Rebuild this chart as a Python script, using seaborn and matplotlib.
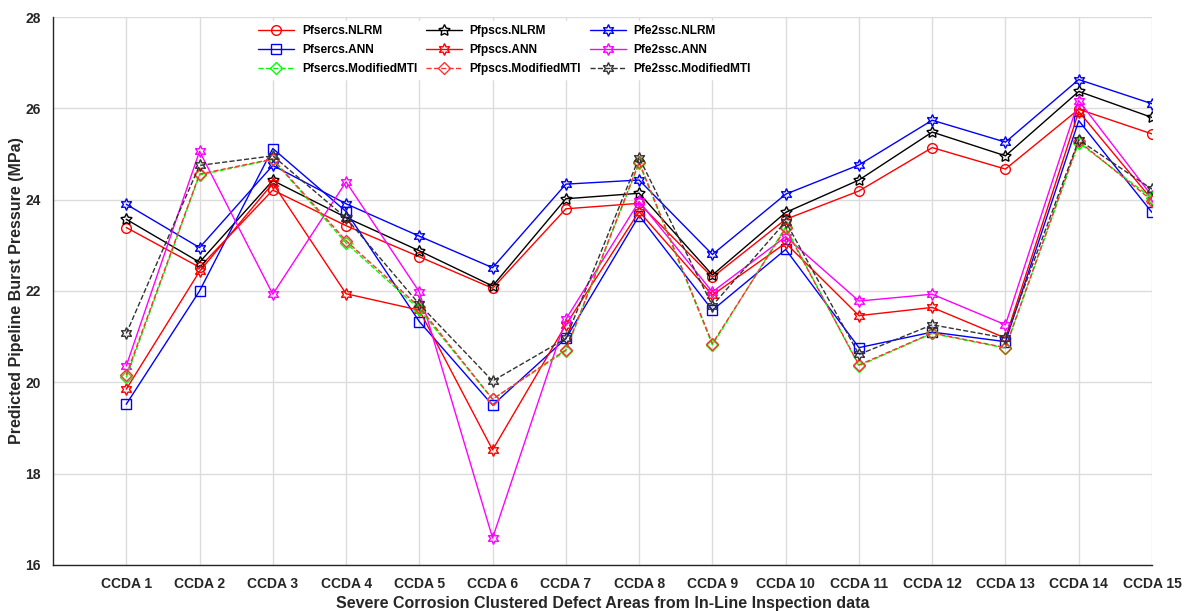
import pandas as pd
import matplotlib
matplotlib.use("Agg")
import matplotlib.pyplot as plt
import seaborn as sns


# ////////////////////// DATA

categories = ["CCDA 1", "CCDA 2", "CCDA 3", "CCDA 4", "CCDA 5", "CCDA 6", "CCDA 7", "CCDA 8",
              "CCDA 9", "CCDA 10", "CCDA 11", "CCDA 12", "CCDA 13", "CCDA 14", "CCDA 15"]

pfsercs_nlrm = [23.39, 22.52, 24.21, 23.43, 22.75, 22.06, 23.80, 23.92, 22.30, 23.57, 24.19, 25.14, 24.67, 25.98, 25.44]
pfpscs_nlrm = [23.57, 22.63, 24.42, 23.61, 22.88, 22.11, 24.02, 24.14, 22.35, 23.72, 24.43, 25.48, 24.96, 26.37, 25.80]
pfe2ssc_nlrm = [23.90, 22.95, 24.75, 23.91, 23.20, 22.51, 24.34, 24.43, 22.80, 24.12, 24.76, 25.74, 25.26, 26.63, 26.10]
pfsercs_ann = [19.52, 22.00, 25.12, 23.74, 21.33, 19.50, 20.96, 23.65, 21.58, 22.91, 20.76, 21.10, 20.89, 25.73, 23.72]
pfpscs_ann = [19.85, 22.43, 24.36, 21.94, 21.58, 18.52, 21.26, 23.74, 21.91, 23.05, 21.46, 21.64, 20.97, 25.93, 24.00]
pfe2ssc_ann = [20.36, 25.06, 21.93, 24.39, 21.98, 16.59, 21.38, 23.96, 21.98, 23.19, 21.78, 21.93, 21.26, 26.17, 24.08]
pfsercs_mmti = [20.11, 24.54, 24.88, 23.05, 21.60, 19.63, 20.69, 24.80, 20.82, 23.40, 20.36, 21.07, 20.75, 25.25, 24.03]
pfpscs_mmti = [20.16, 24.56, 24.89, 23.10, 21.65, 19.63, 20.71, 24.82, 20.85, 23.37, 20.38, 21.08, 20.76, 25.28, 23.98]
pfe2ssc_mmti = [21.07, 24.75, 24.96, 23.60, 21.71, 20.03, 20.96, 24.92, 21.68, 23.52, 20.61, 21.26, 20.97, 25.31, 24.23]

# name, values, color, marker, linestyle
series = [
    ("Pfsercs.NLRM", pfsercs_nlrm, "#ff0000", "o", "-"),
    ("Pfpscs.NLRM", pfpscs_nlrm, "#000000", (5, 1, 0), "-"),
    ("Pfe2ssc.NLRM", pfe2ssc_nlrm, "#0000ff", (6, 1, 0), "-"),
    ("Pfsercs.ANN", pfsercs_ann, "#0000ff", "s", "-"),
    ("Pfpscs.ANN", pfpscs_ann, "#ff0000", (6, 1, 0), "-"),
    ("Pfe2ssc.ANN", pfe2ssc_ann, "#ff00ff", (6, 1, 0), "-"),
    ("Pfsercs.ModifiedMTI", pfsercs_mmti, "#00ff00", "D", "--"),
    ("Pfpscs.ModifiedMTI", pfpscs_mmti, "#ff3333", "D", "--"),
    ("Pfe2ssc.ModifiedMTI", pfe2ssc_mmti, "#333333", (6, 1, 0), "--"),
]

# long table for seaborn
rows = []
for name, vals, _, _, _ in series:
    for i, v in enumerate(vals):
        rows.append({"series": name, "pos": i + 1, "value": v})
df = pd.DataFrame(rows)


# ////////////////////// PLOT

sns.set_style("white")
plt.rcParams["font.family"] = ["Liberation Sans", "DejaVu Sans"]
plt.rcParams["font.weight"] = "bold"

fig = plt.figure(figsize=(11.84, 6.11), dpi=100)
ax = fig.add_axes([53 / 1184, 1 - 565 / 611, (1152 - 53) / 1184, (565 - 17) / 611])

for name, _, color, marker, ls in series:
    sub = df[df["series"] == name]
    ms = 7 if marker in ("o", "s") else (6 if marker == "D" else 8.5)
    sns.lineplot(data=sub, x="pos", y="value", ax=ax, color=color, linestyle=ls,
                 linewidth=1, marker=marker, markersize=ms, markerfacecolor="none",
                 markeredgecolor=color, markeredgewidth=1, label=name, zorder=3)

ax.set_xlim(0, 15)
ax.set_ylim(16, 28)
ax.set_xticks(range(1, 16))
ax.set_xticklabels(categories)
ax.set_yticks(range(16, 29, 2))

ax.grid(True, color="#dcdcdc", linewidth=1)
ax.set_axisbelow(True)
for s in ["top", "right"]:
    ax.spines[s].set_visible(False)
for s in ["left", "bottom"]:
    ax.spines[s].set_color("#262626")
    ax.spines[s].set_linewidth(1)

ax.tick_params(direction="in", length=8, width=1, color="#262626",
               labelcolor="#262626", labelsize=10, pad=9)
for lab in ax.get_xticklabels() + ax.get_yticklabels():
    lab.set_fontweight("bold")

ax.set_xlabel("Severe Corrosion Clustered Defect Areas from In-Line Inspection data",
              fontsize=11.5, fontweight="bold", color="#262626", labelpad=3)
ax.set_ylabel("Predicted Pipeline Burst Pressure (MPa)",
              fontsize=11.5, fontweight="bold", color="#262626", labelpad=1)

# legend fills column-wise, so reorder to get rows of NLRM / ANN / ModifiedMTI
handles, labels = ax.get_legend_handles_labels()
order = [0, 3, 6, 1, 4, 7, 2, 5, 8]
leg = ax.legend([handles[i] for i in order], [labels[i] for i in order],
                loc="upper left", bbox_to_anchor=(0.178, 1.003), ncol=3, frameon=True,
                fontsize=8.6, handlelength=3.0, handletextpad=0.65, columnspacing=0.75,
                labelspacing=0.6, borderpad=0.3, fancybox=False)
leg.get_frame().set_edgecolor("white")
leg.get_frame().set_facecolor("white")
leg.get_frame().set_alpha(1)
for t in leg.get_texts():
    t.set_fontweight("bold")
    t.set_color("#000000")

plt.savefig("out.png", dpi=100)
